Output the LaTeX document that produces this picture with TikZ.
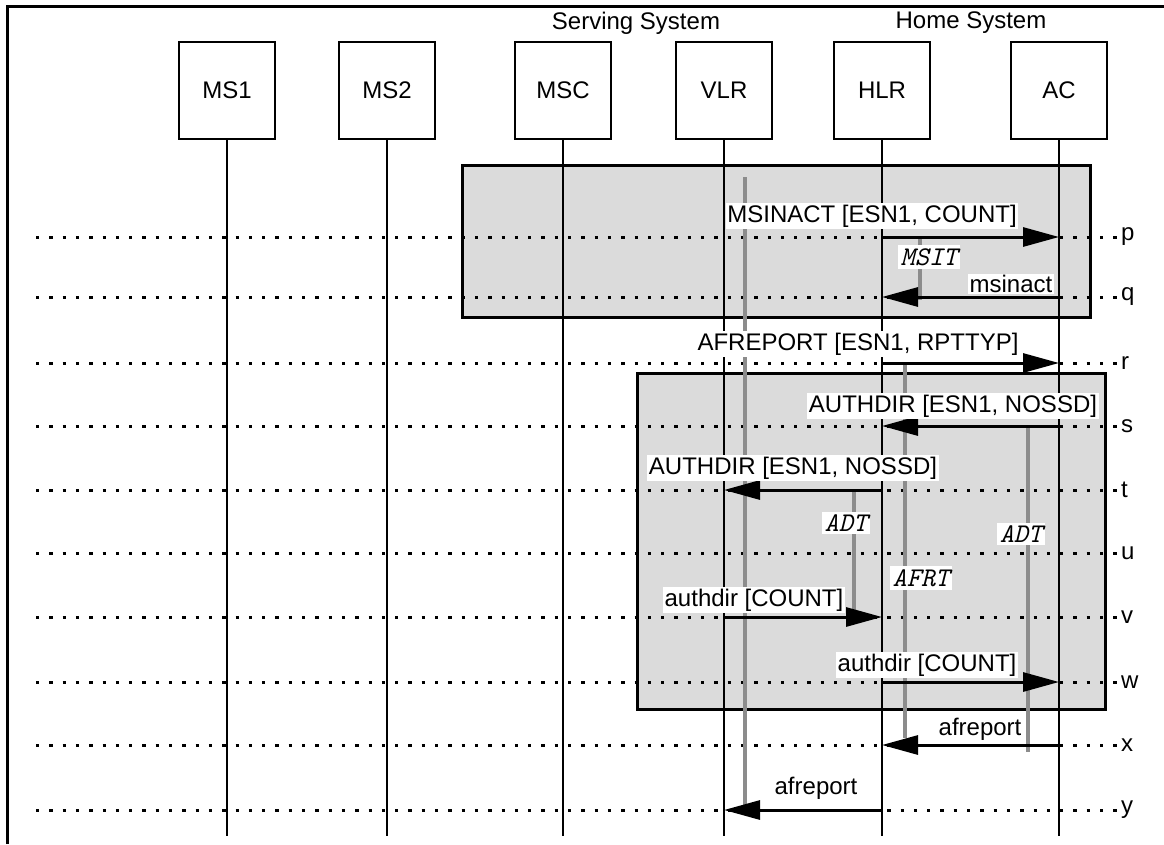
\documentclass[tikz,border=0pt]{standalone}
\usepackage{fontspec}
\setmainfont{Liberation Sans}
\usetikzlibrary{arrows.meta}
\begin{document}
\begin{tikzpicture}[x=1pt,y=-1pt,
  every node/.style={font=\fontsize{24}{28}\selectfont},
  entity/.style={draw,line width=2.6pt,minimum width=96pt,minimum height=97pt,inner sep=0pt,fill=white},
  life/.style={line width=2.6pt},
  rowline/.style={line width=3pt,dash pattern=on 3.3pt off 10pt},
  act/.style={line width=4pt,draw=black!45},
  msg/.style={line width=3pt,-{Triangle[length=36pt,width=19pt]}},
  lbl/.style={fill=white,inner sep=1.5pt},
  tmr/.style={fill=white,inner sep=3pt,font=\fontsize{27}{30}\selectfont\ttfamily\itshape},
  shade/.style={fill=black!14,draw,line width=3pt},
  rowlbl/.style={anchor=west,inner sep=1pt},
]
\useasboundingbox (0,0) rectangle (1164,844);
% frame
\draw[line width=3pt] (7,844) -- (7,6) -- (1164,6);
% shaded regions
\draw[shade] (462,165) rectangle (1090,317);
\draw[shade] (637,373) rectangle (1105,709);
% row coordinates
\foreach \n/\yy in {p/237,q/297,r/363,s/426,t/490,u/553,v/617,w/682,x/745,y/810}{
  \coordinate (l\n) at (36,\yy);
  \coordinate (r\n) at (1117,\yy);
  \draw[rowline] (l\n) -- (r\n);
  \node[rowlbl,xshift=3pt] (rl\n) at (r\n) {\n};
}
% headers
\node (SS) at (636,23) {Serving System};
\node (HS) at (971,23) {Home System};
\node[entity] (MS1) at (227,90.5) {MS1};
\node[entity] (MS2) at (387,90.5) {MS2};
\node[entity] (MSC) at (563,90.5) {MSC};
\node[entity] (VLR) at (724,90.5) {VLR};
\node[entity] (HLR) at (882,90.5) {HLR};
\node[entity] (AC) at (1059,90.5) {AC};
\coordinate (bot) at (0,836);
\foreach \e in {MS1,MS2,MSC,VLR,HLR,AC}{
  \draw[life] (\e.south) -- (\e.south |- bot);
}
% activity bars
\draw[act] (745,177) -- (745,806);
\draw[act] (920,237) -- (920,300);
\draw[act] (905,363) -- (905,738);
\draw[act] (854,490) -- (854,617);
\draw[act] (1028,426) -- (1028,752);
% messages
\draw[msg] (HLR |- rp) -- (AC |- rp);
\draw[msg] (AC |- rq) -- (HLR |- rq);
\draw[msg] (HLR |- rr) -- (AC |- rr);
\draw[msg] (AC |- rs) -- (HLR |- rs);
\draw[msg] (HLR |- rt) -- (VLR |- rt);
\draw[msg] (VLR |- rv) -- (HLR |- rv);
\draw[msg] (HLR |- rw) -- (AC |- rw);
\draw[msg] (AC |- rx) -- (HLR |- rx);
\draw[msg] (HLR |- ry) -- (VLR |- ry);
% labels
\node[lbl] (Lp) at (872,216) {MSINACT [ESN1, COUNT]};
\node[tmr] (Tmsit) at (929,257) {MSIT};
\node[lbl] (Lq) at (1011,284) {msinact};
\node[lbl] (Lr) at (858,344) {AFREPORT [ESN1, RPTTYP]};
\node[lbl] (Ls) at (953,406) {AUTHDIR [ESN1, NOSSD]};
\node[lbl] (Lt) at (793,468) {AUTHDIR [ESN1, NOSSD]};
\node[tmr] (Tadt1) at (846,523) {ADT};
\node[tmr] (Tadt2) at (1021,534) {ADT};
\node[tmr] (Tafrt) at (921,578) {AFRT};
\node[lbl] (Lv) at (754,600) {authdir [COUNT]};
\node[lbl] (Lw) at (927,665) {authdir [COUNT]};
\node[lbl] (Lx) at (980,729) {afreport};
\node[lbl] (Ly) at (816,788) {afreport};
\end{tikzpicture}
\end{document}
